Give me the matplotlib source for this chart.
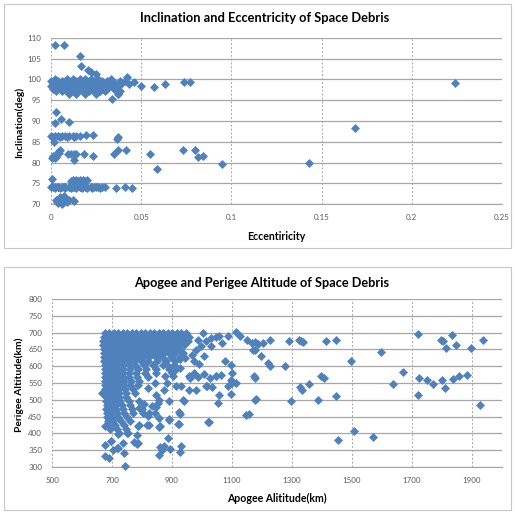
import numpy as np
import matplotlib
matplotlib.use('Agg')
import matplotlib.pyplot as plt
from matplotlib.patches import Rectangle

# ─── Data: inclination vs eccentricity ───────────────────────────────────────

# dense bands, one row of eccentricities per inclination level
band_incl = [100.0, 99.6, 99.0, 98.4, 97.8, 97.2, 96.6,
             86.4, 86.1, 74.2, 74.0, 73.8, 75.8, 75.5]
band_ecc = [
    [0.002, 0.009, 0.012, 0.016, 0.019, 0.022, 0.026, 0.033],
    [0.000, 0.002, 0.004, 0.006, 0.008, 0.010, 0.012, 0.014, 0.016, 0.018,
     0.020, 0.022, 0.024, 0.026, 0.028, 0.031, 0.034, 0.038, 0.041],
    [0.001, 0.003, 0.005, 0.007, 0.009, 0.011, 0.013, 0.015, 0.017, 0.019,
     0.021, 0.023, 0.025, 0.027, 0.029, 0.032, 0.036, 0.039, 0.043],
    [0.000, 0.002, 0.004, 0.006, 0.008, 0.010, 0.012, 0.014, 0.016, 0.018,
     0.020, 0.022, 0.024, 0.026, 0.028, 0.030, 0.032, 0.034, 0.037],
    [0.001, 0.003, 0.005, 0.007, 0.009, 0.011, 0.013, 0.015, 0.017, 0.019,
     0.021, 0.023, 0.025, 0.027, 0.029, 0.031, 0.035],
    [0.003, 0.006, 0.009, 0.012, 0.015, 0.018, 0.021, 0.024, 0.027, 0.030,
     0.038],
    [0.010, 0.014, 0.019, 0.025, 0.037],
    [0.000, 0.002, 0.004, 0.006, 0.008, 0.010, 0.012, 0.014, 0.016],
    [0.001, 0.005, 0.009, 0.013],
    [0.001, 0.004, 0.007, 0.010, 0.013, 0.016, 0.019, 0.022, 0.025],
    [0.000, 0.002, 0.004, 0.006, 0.008, 0.010, 0.012, 0.014, 0.016, 0.018,
     0.020, 0.022, 0.024, 0.026, 0.028, 0.030],
    [0.002, 0.005, 0.008, 0.011, 0.014, 0.017, 0.020, 0.023, 0.027],
    [0.012, 0.014, 0.016, 0.018, 0.020],
    [0.011, 0.015, 0.019],
]

# isolated points
ecc_pts = [0.0024, 0.007, 0.016, 0.0167, 0.0207, 0.022, 0.025,
           0.034, 0.037, 0.042, 0.046, 0.050, 0.057, 0.063, 0.074, 0.077,
           0.224, 0.1686, 0.143,
           0.003, 0.0024, 0.0057, 0.010,
           0.0194, 0.0234, 0.0015, 0.001, 0.0364, 0.0372,
           0.0005, 0.001, 0.002, 0.003, 0.004, 0.0048, 0.0045, 0.0097, 0.011,
           0.0125, 0.014, 0.0125, 0.0185, 0.0234, 0.035, 0.037, 0.0414, 0.055,
           0.059, 0.073, 0.080, 0.0817, 0.084, 0.095,
           0.0007, 0.013, 0.017, 0.036, 0.041, 0.045,
           0.003, 0.004, 0.005, 0.006, 0.007, 0.008, 0.009, 0.010, 0.012,
           0.013, 0.006, 0.0035]
incl_pts = [108.4, 108.4, 105.7, 103.3, 102.2, 101.8, 101.3,
            95.2, 96.5, 100.6, 99.4, 98.4, 98.2, 99.0, 99.4, 99.4,
            99.2, 88.4, 79.8,
            92.1, 89.6, 90.6, 89.8,
            86.6, 86.6, 85.0, 86.0, 85.6, 86.2,
            81.2, 81.6, 81.2, 81.4, 82.6, 83.0, 82.2, 82.1, 82.1,
            82.1, 82.1, 80.6, 82.0, 81.6, 82.0, 83.0, 82.9, 82.1,
            78.5, 83.0, 83.0, 81.4, 81.6, 79.7,
            76.0, 75.5, 75.5, 73.8, 74.0, 73.8,
            71.0, 70.2, 71.6, 70.6, 72.0, 71.3, 70.5, 71.0, 71.0,
            70.8, 70.1, 70.4]

ecc_ticks = [0, 0.05, 0.1, 0.15, 0.2, 0.25]
ecc_tick_labels = ['0', '0.05', '0.1', '0.15', '0.2', '0.25']
incl_ticks = [70, 75, 80, 85, 90, 95, 100, 105, 110]

# ─── Data: perigee vs apogee altitude ────────────────────────────────────────

dense_perigee = [700, 688, 676, 664, 652, 640, 628, 616, 604, 592, 580, 568,
                 556, 544, 532, 520, 508, 496, 484, 472, 460, 448, 436, 424, 412]
dense_apogee = [
    [675, 690, 705, 720, 735, 750, 765, 780, 795, 810, 825, 840, 855, 870, 885,
     900, 915, 930, 945],
    [672, 686, 700, 715, 730, 745, 760, 775, 790, 805, 820, 835, 850, 865, 880,
     895, 910, 925, 940, 955],
    [670, 684, 698, 712, 727, 742, 757, 772, 787, 802, 817, 832, 847, 862, 877,
     892, 907, 922, 937, 952],
    [671, 685, 699, 714, 729, 744, 759, 774, 789, 804, 819, 834, 849, 864, 879,
     894, 909, 924, 939],
    [672, 686, 700, 716, 732, 748, 764, 780, 796, 812, 828, 844, 860, 876, 892,
     908, 924],
    [674, 688, 702, 718, 734, 750, 766, 782, 800, 818, 836, 854, 872, 890, 910, 935],
    [673, 687, 701, 716, 731, 748, 766, 784, 802, 822, 845, 868, 895, 925],
    [674, 688, 702, 717, 733, 752, 772, 795, 820, 850, 880, 910],
    [675, 689, 703, 718, 735, 755, 778, 805, 835, 870, 905],
    [676, 690, 704, 720, 738, 760, 785, 812, 848, 890],
    [675, 689, 703, 718, 735, 756, 780, 810, 845],
    [677, 691, 705, 720, 738, 758, 782, 820],
    [676, 690, 704, 720, 740, 762, 790],
    [675, 689, 703, 719, 737, 760, 785],
    [678, 692, 706, 722, 742, 770],
    [677, 691, 705, 722, 745, 775],
    [679, 693, 707, 724, 748],
    [680, 694, 710, 728, 755, 790],
    [682, 697, 712, 732, 760],
    [680, 695, 712, 735, 765, 800],
    [682, 698, 715, 740, 770],
    [684, 700, 720, 750],
    [686, 704, 730, 760],
    [688, 710, 740],
    [692, 718, 748],
]

apogee_pts = [667, 675, 691, 678, 697, 702, 715, 719, 740, 743, 751, 773, 784,
              787, 817, 784, 855, 866, 872, 861, 888, 893, 891, 930, 926, 926,
              921, 937, 930, 959, 986, 1008, 1016, 1033, 1019, 1052, 1057, 1025,
              1047, 1063, 1087, 1096, 1101, 1098, 1077, 1096, 1101, 1112, 1068,
              1085, 1112, 1128, 1150, 1167, 1170, 1172, 1148, 1178,
              926, 943, 965, 981, 973, 990, 997, 1008, 986, 1014, 1030, 1047,
              1057, 1030, 1003, 899, 910, 888, 926, 877, 844, 855, 833, 820,
              790, 844,
              1178, 1186, 1202, 1225, 1175, 1197, 1219, 1225, 1275, 1291, 1322,
              1330, 1338, 1414, 1445, 1175, 1180, 1158, 1297, 1327, 1334, 1358,
              1386, 1397, 1408, 1445, 1452, 1497, 1505, 1569, 1597, 1638, 1671,
              1720, 1722, 1720, 1749, 1771, 1797, 1802, 1800, 1814, 1811, 1834,
              1836, 1845, 1856, 1882, 1897, 1928, 1936,
              678, 696, 724, 752, 735, 785, 719, 791, 822, 822, 858, 858, 891,
              861, 922, 939, 924, 958, 1013, 1022, 852, 846, 802, 805, 846, 819,
              891, 874, 882, 913, 904, 958, 974, 1046, 980]
perigee_pts = [520, 332, 327, 366, 376, 352, 357, 398, 342, 304, 401, 373, 369,
               421, 426, 396, 335, 352, 362, 421, 385, 354, 443, 362, 344, 459,
               429, 498, 540, 565, 568, 577, 542, 538, 433, 490, 515, 565,
               570, 575, 540, 560, 580, 605, 614, 518, 549, 549, 669,
               691, 701, 689, 679, 669, 649, 570, 456, 500,
               621, 624, 634, 649, 614, 608, 659, 629, 679, 674, 684, 687,
               691, 659, 699, 580, 590, 600, 595, 570, 550, 500, 481, 451,
               476, 461,
               671, 667, 669, 679, 649, 629, 609, 602, 602, 676, 679,
               674, 671, 674, 679, 565, 502, 459, 495, 537, 530, 548,
               500, 572, 565, 510, 381, 614, 408, 390, 642, 548, 582,
               697, 564, 514, 560, 548, 679, 674, 560, 655, 534, 693,
               562, 663, 572, 574, 655, 484, 679,
               421, 376, 401, 401, 371, 371, 357, 426, 426, 461, 419, 446, 441,
               359, 429, 495, 463, 528, 542, 433, 490, 480, 461, 488, 515, 535,
               495, 530, 550, 540, 570, 570, 580, 570, 530]

apo_ticks = [500, 700, 900, 1100, 1300, 1500, 1700, 1900]
peri_ticks = [300, 350, 400, 450, 500, 550, 600, 650, 700, 750, 800]

# ─── Style ───────────────────────────────────────────────────────────────────

BLUE = '#4f81bd'
GRID = '#a6a6a6'
TICK = '#595959'
FONT = 'Lato'

plt.rcParams['font.family'] = [FONT, 'DejaVu Sans']

fig = plt.figure(figsize=(5.15, 5.12), dpi=100)
W, H = 515.0, 512.0


def px_rect(x0, y0, x1, y1):
    return [x0 / W, 1 - y1 / H, (x1 - x0) / W, (y1 - y0) / H]


def style_axes(ax, xlim, ylim, xticks, yticks, xlabels=None):
    ax.set_xlim(*xlim)
    ax.set_ylim(*ylim)
    ax.set_xticks(xticks)
    ax.set_yticks(yticks)
    if xlabels is not None:
        ax.set_xticklabels(xlabels)
    ax.tick_params(length=0, labelsize=5.8, labelcolor=TICK, pad=7)
    for side in ['top', 'right', 'left']:
        ax.spines[side].set_visible(False)
    ax.spines['bottom'].set_color(GRID)
    ax.spines['bottom'].set_linewidth(0.8)
    ax.yaxis.grid(True, color=GRID, linewidth=0.9, linestyle='-')
    ax.xaxis.grid(True, color=GRID, linewidth=0.7, linestyle=(0, (2, 2)))
    ax.set_axisbelow(True)


# chart frames
for box in [(4, 4, 511, 248), (4, 267, 511, 510)]:
    x0, y0, w, h = px_rect(*box)
    fig.patches.append(Rectangle((x0, y0), w, h, transform=fig.transFigure,
                                 fill=False, edgecolor='#c8c8c8', linewidth=0.8))

# ─── Top chart ───────────────────────────────────────────────────────────────

ax1 = fig.add_axes(px_rect(51, 38, 502, 204))
style_axes(ax1, (0, 0.25), (70, 110), ecc_ticks, incl_ticks, ecc_tick_labels)

ecc_all = [e for row in band_ecc for e in row] + ecc_pts
incl_all = [i for row, lvl in zip(band_ecc, band_incl) for i in [lvl] * len(row)] + incl_pts
ax1.scatter(ecc_all, incl_all, marker='D', s=21, color=BLUE, linewidths=0,
            clip_on=False, zorder=3)

fig.text(265 / W, 1 - 18 / H, 'Inclination and Eccentricity of Space Debris',
         ha='center', va='center', fontsize=9.3, fontweight='bold')
fig.text(276 / W, 1 - 236 / H, 'Eccentiricity', ha='center', va='center',
         fontsize=7.6, fontweight='bold')
fig.text(19 / W, 1 - 122 / H, 'Inclination(deg)', ha='center', va='center',
         rotation=90, fontsize=7.4, fontweight='bold')

# ─── Bottom chart ────────────────────────────────────────────────────────────

ax2 = fig.add_axes(px_rect(52, 299, 502, 467))
style_axes(ax2, (500, 2000), (300, 800), apo_ticks, peri_ticks)

apo_all = [a for row in dense_apogee for a in row] + apogee_pts
peri_all = [p for row, lvl in zip(dense_apogee, dense_perigee) for p in [lvl] * len(row)] + perigee_pts
ax2.scatter(apo_all, peri_all, marker='D', s=21, color=BLUE, linewidths=0,
            clip_on=False, zorder=3)

fig.text(262 / W, 1 - 283 / H, 'Apogee and Perigee Altitude of Space Debris',
         ha='center', va='center', fontsize=9.2, fontweight='bold')
fig.text(277 / W, 1 - 498 / H, 'Apogee Alititude(km)', ha='center', va='center',
         fontsize=7.6, fontweight='bold')
fig.text(19 / W, 1 - 385 / H, 'Perigee Altitude(km)', ha='center', va='center',
         rotation=90, fontsize=7.4, fontweight='bold')

fig.savefig('out.png', dpi=100)
